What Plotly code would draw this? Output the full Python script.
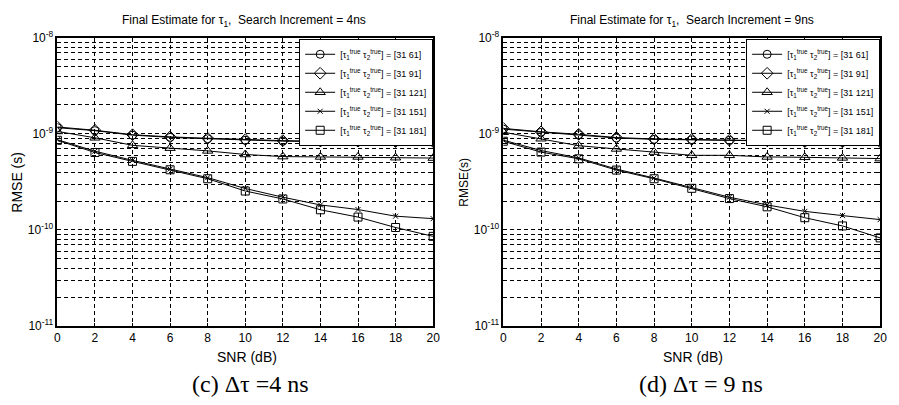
import plotly.graph_objects as go

# ---- data ---------------------------------------------------------------
snr_db = [0, 2, 4, 6, 8, 10, 12, 14, 16, 18, 20]
pair_labels = ["[31 61]", "[31 91]", "[31 121]", "[31 151]", "[31 181]"]

# RMSE (s), search increment = 4 ns
rmse4_61 = [1.16e-9, 1.08e-9, 0.97e-9, 0.92e-9, 0.89e-9, 0.86e-9, 0.84e-9, 0.83e-9, 0.82e-9, 0.82e-9, 0.82e-9]
rmse4_91 = [1.18e-9, 1.09e-9, 0.98e-9, 0.93e-9, 0.90e-9, 0.87e-9, 0.85e-9, 0.84e-9, 0.84e-9, 0.83e-9, 0.83e-9]
rmse4_121 = [1.06e-9, 0.91e-9, 0.76e-9, 0.71e-9, 0.665e-9, 0.61e-9, 0.58e-9, 0.575e-9, 0.575e-9, 0.565e-9, 0.56e-9]
rmse4_151 = [0.87e-9, 0.66e-9, 0.53e-9, 0.43e-9, 0.35e-9, 0.27e-9, 0.219e-9, 0.182e-9, 0.163e-9, 0.139e-9, 0.131e-9]
rmse4_181 = [0.857e-9, 0.64e-9, 0.517e-9, 0.423e-9, 0.341e-9, 0.254e-9, 0.21e-9, 0.162e-9, 0.136e-9, 0.106e-9, 0.0857e-9]

# RMSE (s), search increment = 9 ns
rmse9_61 = [1.12e-9, 1.04e-9, 0.98e-9, 0.905e-9, 0.877e-9, 0.87e-9, 0.857e-9, 0.845e-9, 0.82e-9, 0.82e-9, 0.82e-9]
rmse9_91 = [1.14e-9, 1.05e-9, 0.99e-9, 0.915e-9, 0.885e-9, 0.875e-9, 0.86e-9, 0.85e-9, 0.83e-9, 0.825e-9, 0.825e-9]
rmse9_121 = [1.04e-9, 0.89e-9, 0.753e-9, 0.697e-9, 0.646e-9, 0.598e-9, 0.598e-9, 0.575e-9, 0.57e-9, 0.562e-9, 0.553e-9]
rmse9_151 = [0.86e-9, 0.671e-9, 0.562e-9, 0.43e-9, 0.347e-9, 0.278e-9, 0.219e-9, 0.182e-9, 0.156e-9, 0.141e-9, 0.128e-9]
rmse9_181 = [0.838e-9, 0.646e-9, 0.55e-9, 0.42e-9, 0.341e-9, 0.271e-9, 0.212e-9, 0.174e-9, 0.134e-9, 0.11e-9, 0.0826e-9]

y_tickvals = [1e-11, 1e-10, 1e-9, 1e-8]
y_ticktext = ["10<sup>-11</sup>", "10<sup>-10</sup>", "10<sup>-9</sup>", "10<sup>-8</sup>"]
x_tickvals = [0, 2, 4, 6, 8, 10, 12, 14, 16, 18, 20]

# ---- styling --------------------------------------------------------------
W, H = 899, 405
SANS = "Liberation Sans, Arial, sans-serif"
SERIF = "Liberation Serif, Times New Roman, serif"
GRID_DASH = "4px,3px"


def px(x):
    return x / W


def py(y):
    return 1 - y / H


markers = [
    dict(symbol="circle-open", size=8),
    dict(symbol="diamond-open", size=9),
    dict(symbol="triangle-up-open", size=9),
    dict(symbol="x-thin-open", size=5),
    dict(symbol="square-open", size=8),
]

fig = go.Figure()

panels = [
    ("x", "y", "legend", [rmse4_61, rmse4_91, rmse4_121, rmse4_151, rmse4_181]),
    ("x2", "y2", "legend2", [rmse9_61, rmse9_91, rmse9_121, rmse9_151, rmse9_181]),
]

for xa, ya, lg, series in panels:
    for lab, vals, mk in zip(pair_labels, series, markers):
        fig.add_trace(go.Scatter(
            x=snr_db, y=vals, xaxis=xa, yaxis=ya, legend=lg,
            mode="lines+markers",
            name="[τ<sub>1</sub><sup>true</sup> τ<sub>2</sub><sup>true</sup>] = " + lab,
            line=dict(color="black", width=1),
            marker=dict(symbol=mk["symbol"], size=mk["size"], color="black",
                        line=dict(color="black", width=1)),
        ))

x_common = dict(
    range=[0, 20], tickvals=x_tickvals, ticks="inside", ticklen=3,
    tickcolor="black", showline=True, linecolor="black", linewidth=1.5,
    mirror="allticks", showgrid=True, gridcolor="black", gridwidth=0.8,
    griddash=GRID_DASH, zeroline=False,
    tickfont=dict(family=SANS, size=12, color="black"),
)
y_common = dict(
    type="log", range=[-11, -8], tickvals=y_tickvals, ticktext=y_ticktext,
    ticks="inside", ticklen=3, tickcolor="black", showline=True,
    linecolor="black", linewidth=1.5, mirror="allticks", showgrid=True,
    gridcolor="black", gridwidth=0.8, griddash=GRID_DASH, zeroline=False,
    tickfont=dict(family=SANS, size=12, color="black"),
    minor=dict(dtick="D1", showgrid=True, gridcolor="black", gridwidth=0.8,
               griddash=GRID_DASH, ticks="inside", ticklen=2, tickcolor="black"),
)

y_dom = [py(330), py(30)]
legend_style = dict(xanchor="right", yanchor="top", bgcolor="white",
                    bordercolor="black", borderwidth=1,
                    font=dict(family=SANS, size=9, color="black"))
fig.update_layout(
    width=W, height=H,
    margin=dict(l=0, r=0, t=0, b=0),
    paper_bgcolor="white", plot_bgcolor="white",
    xaxis=dict(domain=[px(55), px(435)], anchor="y", **x_common),
    yaxis=dict(domain=y_dom, anchor="x", **y_common),
    xaxis2=dict(domain=[px(506), px(887)], anchor="y2", **x_common),
    yaxis2=dict(domain=y_dom, anchor="x2", **y_common),
    legend=dict(x=px(435), y=py(31), **legend_style),
    legend2=dict(x=px(887), y=py(31), **legend_style),
    showlegend=True,
)

annotations = [
    dict(text="Final Estimate for τ<sub>1</sub>,  Search Increment = 4ns",
         x=px(244), y=py(13), size=12, family=SANS, angle=0),
    dict(text="Final Estimate for τ<sub>1</sub>,  Search Increment = 9ns",
         x=px(697), y=py(13), size=12, family=SANS, angle=0),
    dict(text="RMSE (s)", x=px(14), y=py(180), size=14, family=SANS, angle=-90),
    dict(text="RMSE(s)", x=px(466), y=py(180), size=12, family=SANS, angle=-90),
    dict(text="SNR (dB)", x=px(247), y=py(362), size=14, family=SANS, angle=0),
    dict(text="SNR (dB)", x=px(698), y=py(362), size=14, family=SANS, angle=0),
    dict(text="(c) Δτ =4 ns", x=px(250), y=py(390), size=24, family=SERIF, angle=0),
    dict(text="(d) Δτ = 9 ns", x=px(706), y=py(390), size=24, family=SERIF, angle=0),
]
for a in annotations:
    fig.add_annotation(
        text=a["text"], x=a["x"], y=a["y"], xref="paper", yref="paper",
        xanchor="center", yanchor="middle", showarrow=False,
        textangle=a["angle"], font=dict(family=a["family"], size=a["size"], color="black"),
    )

fig.write_html("out.html")
